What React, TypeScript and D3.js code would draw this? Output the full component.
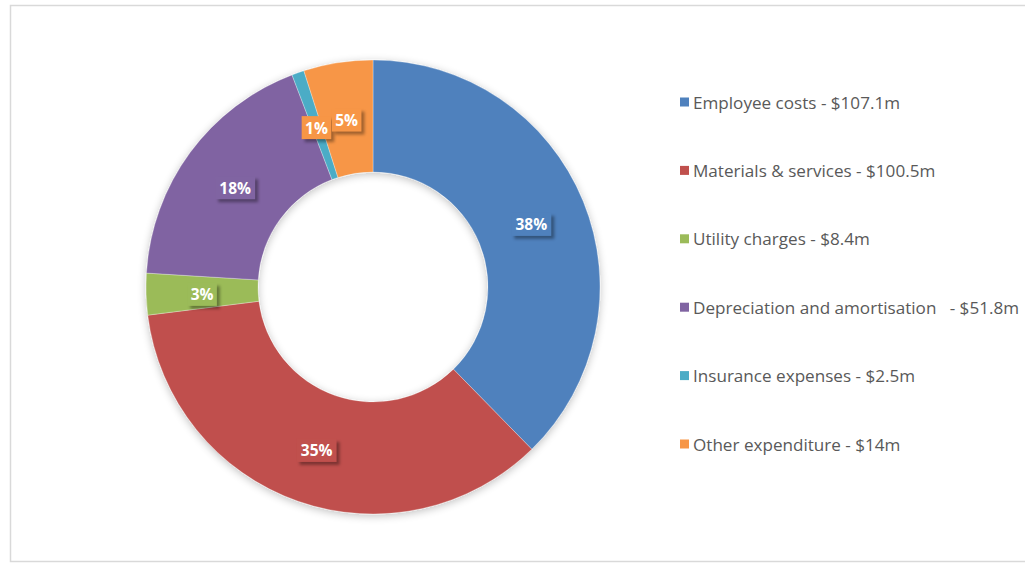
import React from "react";
import * as d3 from "d3";

const categories = [
  "Employee costs - $107.1m",
  "Materials & services - $100.5m",
  "Utility charges - $8.4m",
  "Depreciation and amortisation   - $51.8m",
  "Insurance expenses - $2.5m",
  "Other expenditure - $14m",
];
const values = [107.1, 100.5, 8.4, 51.8, 2.5, 14];
const colors = ["#4F81BD", "#C0504D", "#9BBB59", "#8064A2", "#4BACC6", "#F79646"];

const W = 1025;
const H = 564;
const cx = 373;
const cy = 287;
const R = 227;
const r = 115;

export default function App() {
  const total = d3.sum(values);
  const pie = d3.pie<number>().sort(null).value((d) => d)(values);
  const arc = d3.arc<d3.PieArcDatum<number>>().innerRadius(r).outerRadius(R);
  const fmt = (v: number) => `${Math.round((v / total) * 100)}%`;

  const boxes = pie.map((p, i) => {
    const [x, y] = arc.centroid(p);
    const label = fmt(values[i]);
    const w = label.length * 10.3 + 9;
    // a box wider than its slice takes the neighbouring slice's colour
    const sliceWidth = (p.endAngle - p.startAngle) * (R + r) / 2;
    const fill = sliceWidth < w / 2 ? colors[(i + 1) % colors.length] : colors[i];
    return { x: cx + x, y: cy + y + 2, w, h: 23, label, i, fill };
  });

  const legendX = 680;
  const legendY0 = 102;
  const legendStep = 68.4;

  return (
    <svg
      width={W}
      height={H}
      style={{ position: "absolute", left: 0, top: 0, background: "#fff" }}
      fontFamily="'Open Sans', Lato, sans-serif"
    >
      <defs>
        <filter id="donutShadow" x="-20%" y="-20%" width="140%" height="140%">
          <feGaussianBlur in="SourceAlpha" stdDeviation="4" />
          <feOffset dx="0" dy="2" result="ob" />
          <feComponentTransfer>
            <feFuncA type="linear" slope="0.25" />
          </feComponentTransfer>
          <feMerge>
            <feMergeNode />
            <feMergeNode in="SourceGraphic" />
          </feMerge>
        </filter>
        <filter id="boxShadow" x="-50%" y="-50%" width="200%" height="200%">
          <feGaussianBlur stdDeviation="1.5" />
        </filter>
      </defs>
      <rect x={10.5} y={5.5} width={W + 20} height={556} fill="#fff" stroke="#d9d9d9" strokeWidth={1.5} />
      <g transform={`translate(${cx},${cy})`} filter="url(#donutShadow)">
        {pie.map((p, i) => (
          <path key={i} d={arc(p) || ""} fill={colors[i]} stroke="#fff" strokeWidth={0.3} />
        ))}
      </g>
      {boxes.map((b) => (
        <g key={b.i}>
          <rect
            x={b.x - b.w / 2 + 3}
            y={b.y - b.h / 2 + 3}
            width={b.w}
            height={b.h}
            fill="#000"
            opacity={0.35}
            filter="url(#boxShadow)"
          />
          <rect x={b.x - b.w / 2} y={b.y - b.h / 2} width={b.w} height={b.h} fill={b.fill} />
          <text
            x={b.x}
            y={b.y}
            textAnchor="middle"
            dominantBaseline="central"
            fill="#fff"
            fontWeight="bold"
            fontSize={15.5}
          >
            {b.label}
          </text>
        </g>
      ))}
      {categories.map((c, i) => {
        const y = legendY0 + i * legendStep;
        return (
          <g key={c}>
            <rect x={legendX} y={y - 4.5} width={9} height={9} fill={colors[i]} />
            <text
              x={legendX + 13}
              y={y}
              dominantBaseline="central"
              fontSize={17.1}
              fill="#595959"
              style={{ whiteSpace: "pre" }}
            >
              {c}
            </text>
          </g>
        );
      })}
    </svg>
  );
}
